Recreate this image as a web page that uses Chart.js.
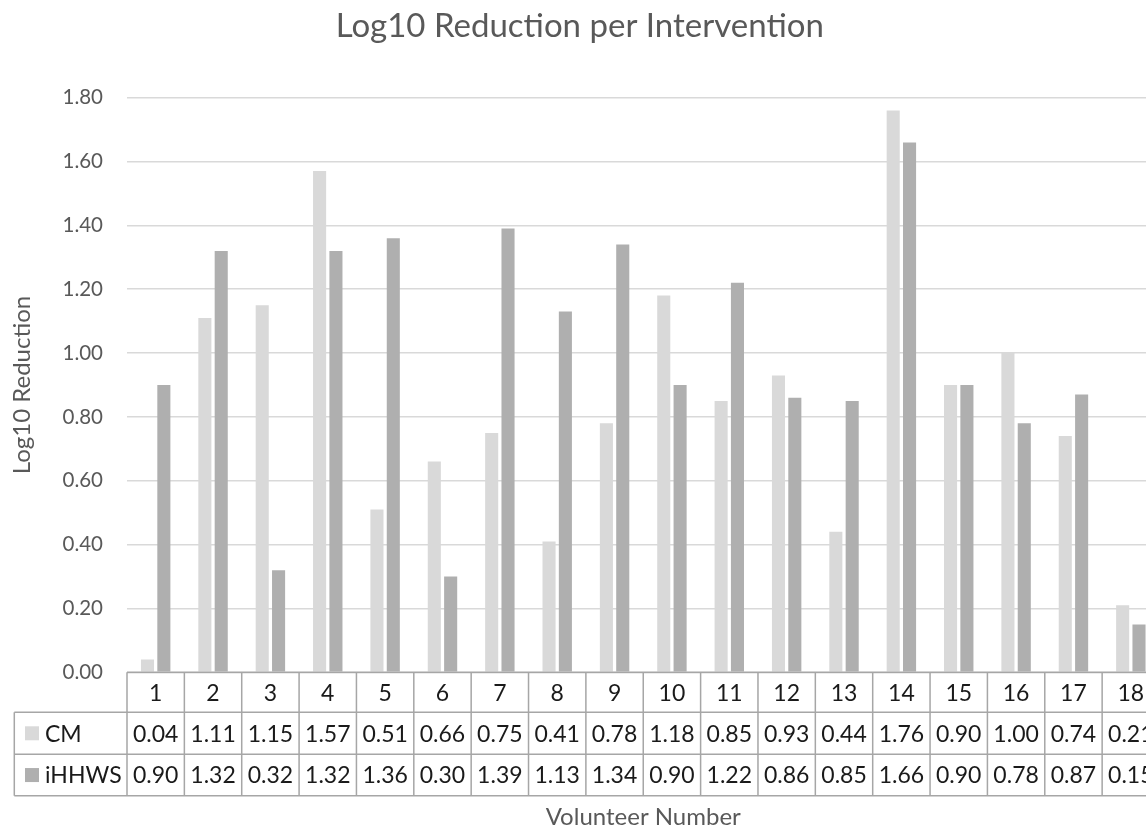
<!DOCTYPE html>
<html>
<head>
<meta charset="utf-8">
<script src="https://cdn.jsdelivr.net/npm/chart.js@4"></script>
<style>
  html, body { margin: 0; padding: 0; overflow: hidden; background: #ffffff; }
  #wrap { width: 1227px; height: 840px; position: relative; }
</style>
</head>
<body>
<div id="wrap"><canvas id="c"></canvas></div>
<script>
const categories = ['1','2','3','4','5','6','7','8','9','10','11','12','13','14','15','16','17','18'];
const seriesNames = ['CM', 'iHHWS'];
const cmValues = [0.04, 1.11, 1.15, 1.57, 0.51, 0.66, 0.75, 0.41, 0.78, 1.18, 0.85, 0.93, 0.44, 1.76, 0.90, 1.00, 0.74, 0.21];
const ihhwsValues = [0.90, 1.32, 0.32, 1.32, 1.36, 0.30, 1.39, 1.13, 1.34, 0.90, 1.22, 0.86, 0.85, 1.66, 0.90, 0.78, 0.87, 0.15];
const yTickValues = [0, 0.2, 0.4, 0.6, 0.8, 1.0, 1.2, 1.4, 1.6, 1.8];
const titleText = 'Log10 Reduction per Intervention';
const yTitleText = 'Log10 Reduction';
const xTitleText = 'Volunteer Number';

const FONT = 'Lato';
const seriesColors = ['#d9d9d9', '#afafaf'];

const dataTablePlugin = {
  id: 'dataTable',
  afterDraw(chart) {
    const ctx = chart.ctx;
    const xs = chart.scales.x;
    const area = chart.chartArea;
    const labels = chart.data.labels;
    const n = labels.length;
    const colW = (area.right - area.left) / n;
    const rows = [area.bottom, area.bottom + 40, area.bottom + 82, area.bottom + 123.5];
    const legendLeft = 14.3;
    ctx.save();
    ctx.strokeStyle = '#a6a6a6';
    ctx.lineWidth = 1.5;
    ctx.beginPath();
    ctx.moveTo(area.left, rows[0]); ctx.lineTo(area.right, rows[0]);
    for (let r = 1; r < rows.length; r++) {
      ctx.moveTo(legendLeft, rows[r]); ctx.lineTo(area.right, rows[r]);
    }
    for (let i = 0; i <= n; i++) {
      const x = area.left + i * colW;
      ctx.moveTo(x, rows[0]); ctx.lineTo(x, rows[3]);
    }
    ctx.moveTo(legendLeft, rows[1]); ctx.lineTo(legendLeft, rows[3]);
    ctx.stroke();

    ctx.fillStyle = '#1a1a1a';
    ctx.font = '23px ' + FONT;
    ctx.textAlign = 'center';
    ctx.textBaseline = 'middle';
    for (let i = 0; i < n; i++) {
      const cx = xs.getPixelForValue(i);
      ctx.fillText(labels[i], cx, (rows[0] + rows[1]) / 2 + 1);
      chart.data.datasets.forEach((ds, d) => {
        ctx.fillText(ds.data[i].toFixed(2), cx, (rows[d + 1] + rows[d + 2]) / 2 + 1);
      });
    }
    chart.data.datasets.forEach((ds, d) => {
      const cy = (rows[d + 1] + rows[d + 2]) / 2;
      ctx.fillStyle = ds.backgroundColor;
      ctx.fillRect(25, cy - 7, 14, 14);
      ctx.fillStyle = '#1a1a1a';
      ctx.textAlign = 'left';
      ctx.fillText(ds.label, 45, cy + 1);
    });
    ctx.restore();
  }
};

new Chart(document.getElementById('c'), {
  type: 'bar',
  data: {
    labels: categories,
    datasets: [
      { label: seriesNames[0], data: cmValues, backgroundColor: seriesColors[0], categoryPercentage: 0.57, barPercentage: 0.8 },
      { label: seriesNames[1], data: ihhwsValues, backgroundColor: seriesColors[1], categoryPercentage: 0.57, barPercentage: 0.8 }
    ]
  },
  options: {
    responsive: true,
    maintainAspectRatio: false,
    devicePixelRatio: 1,
    animation: false,
    layout: { padding: { left: 0, right: 67.5, top: 0, bottom: 0 } },
    plugins: {
      legend: { display: false },
      tooltip: { enabled: false },
      title: {
        display: true,
        text: titleText,
        color: '#595959',
        font: { family: FONT, size: 33, weight: 'normal' },
        padding: { top: 7, bottom: 51.1 }
      }
    },
    scales: {
      x: {
        grid: { display: false },
        border: { display: false },
        ticks: { display: false },
        title: {
          display: true,
          text: xTitleText,
          color: '#595959',
          font: { family: FONT, size: 24 },
          padding: { top: 0, bottom: 8.6 }
        },
        afterFit(scale) { scale.height = 840 - 672.3; }
      },
      y: {
        min: 0,
        max: 1.8,
        grid: { color: '#d9d9d9', lineWidth: 1.5, drawTicks: false },
        border: { display: false },
        afterBuildTicks(scale) { scale.ticks = yTickValues.map(v => ({ value: v })); },
        ticks: {
          color: '#595959',
          padding: 24,
          font: { family: FONT, size: 20.5 },
          callback: (v) => Number(v).toFixed(2)
        },
        title: {
          display: true,
          text: yTitleText,
          color: '#595959',
          font: { family: FONT, size: 24 },
          padding: { top: 7.6, bottom: 0 }
        },
        afterFit(scale) { scale.width = 127; }
      }
    }
  },
  plugins: [dataTablePlugin]
});
</script>
</body>
</html>
